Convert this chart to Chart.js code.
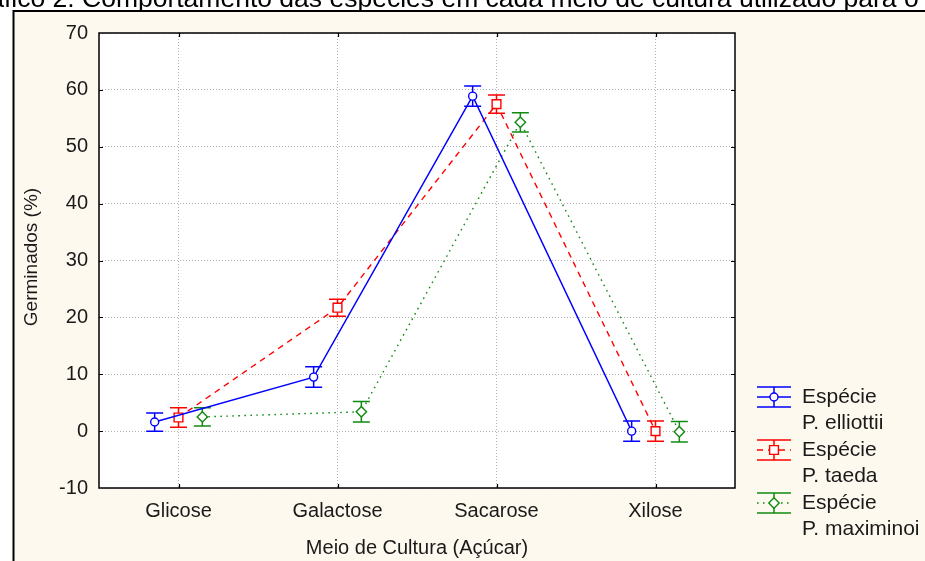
<!DOCTYPE html>
<html>
<head>
<meta charset="utf-8">
<script src="https://cdn.jsdelivr.net/npm/chart.js@4.4.1/dist/chart.umd.min.js"></script>
<style>
  html, body { margin: 0; padding: 0; background: #ffffff; overflow: hidden; }
  canvas { display: block; }
</style>
</head>
<body>
<canvas id="c" width="925" height="561"></canvas>
<script>
// Sugar media (x categories) and y axis ticks
const categories = ['Glicose', 'Galactose', 'Sacarose', 'Xilose'];
const yTicks = [-10, 0, 10, 20, 30, 40, 50, 60, 70];

// Germination (%) per medium, with half-width of the error bars
const elliottiiMean = [1.6, 9.5, 58.9, 0.0];
const elliottiiErr  = [1.6, 1.8, 1.8, 1.8];
const taedaMean     = [2.4, 21.7, 57.5, 0.0];
const taedaErr      = [1.7, 1.5, 1.6, 1.8];
const maximinoiMean = [2.5, 3.4, 54.3, -0.1];
const maximinoiErr  = [1.6, 1.8, 1.7, 1.8];

const seriesNames = [['Espécie', 'P. elliottii'], ['Espécie', 'P. taeda'], ['Espécie', 'P. maximinoi']];

const FONT = '"Liberation Sans", Arial, sans-serif';
const TEXT = '#1a1a1a';

const series = [
  { name: seriesNames[0], mean: elliottiiMean, err: elliottiiErr, color: '#0000ff', style: 'circle',  radius: 4,   dash: [],     shift: -0.15 },
  { name: seriesNames[1], mean: taedaMean,     err: taedaErr,     color: '#ff0000', style: 'rect',    radius: 6.2, dash: [6, 5], shift: 0 },
  { name: seriesNames[2], mean: maximinoiMean, err: maximinoiErr, color: '#108a10', style: 'rectRot', radius: 5.2, dash: [1.6, 4.4], shift: 0.15 }
];

const datasets = series.map(s => ({
  label: s.name.join(' '),
  data: s.mean.map((v, i) => ({ x: i + s.shift, y: v, e: s.err[i] })),
  borderColor: s.color,
  backgroundColor: '#ffffff',
  borderWidth: 1.4,
  borderDash: s.dash,
  tension: 0,
  pointStyle: s.style,
  pointRadius: s.radius,
  pointBorderWidth: 1.4,
  pointBorderColor: s.color,
  pointBackgroundColor: '#ffffff'
}));

// page, caption strip, cream panel and white plot area
const backdrop = {
  id: 'backdrop',
  beforeDraw(chart) {
    const { ctx, chartArea: a, width, height } = chart;
    ctx.save();
    ctx.fillStyle = '#ffffff';
    ctx.fillRect(0, 0, width, height);

    // caption above the panel
    ctx.fillStyle = '#000000';
    ctx.font = '26.5px ' + FONT;
    ctx.textBaseline = 'alphabetic';
    ctx.textAlign = 'left';
    const lead = 'Gráfico 2. ';
    const x0 = 82 - ctx.measureText(lead).width;
    ctx.fillText(lead + 'Comportamento das espécies em cada meio de cultura utilizado para o', x0, 6.5);

    ctx.fillStyle = '#fef9ee';
    ctx.fillRect(14, 12, width - 14, height - 12);
    ctx.strokeStyle = '#000000';
    ctx.lineWidth = 2;
    ctx.beginPath();
    ctx.moveTo(13.5, height);
    ctx.lineTo(13.5, 11);
    ctx.lineTo(width, 11);
    ctx.stroke();

    ctx.fillStyle = '#ffffff';
    ctx.fillRect(a.left, a.top, a.right - a.left, a.bottom - a.top);
    ctx.restore();
  }
};

// vertical error bars with caps
const errorBars = {
  id: 'errorBars',
  beforeDatasetsDraw(chart) {
    const { ctx, scales: { x, y } } = chart;
    ctx.save();
    ctx.lineWidth = 1.5;
    ctx.setLineDash([]);
    chart.data.datasets.forEach(ds => {
      ctx.strokeStyle = ds.borderColor;
      ds.data.forEach(p => {
        const px = x.getPixelForValue(p.x);
        const top = y.getPixelForValue(p.y + p.e);
        const bot = y.getPixelForValue(p.y - p.e);
        ctx.beginPath();
        ctx.moveTo(px, top); ctx.lineTo(px, bot);
        ctx.moveTo(px - 8.5, top); ctx.lineTo(px + 8.5, top);
        ctx.moveTo(px - 8.5, bot); ctx.lineTo(px + 8.5, bot);
        ctx.stroke();
      });
    });
    ctx.restore();
  }
};

// plot frame, inner ticks, axis titles and legend
const decorations = {
  id: 'decorations',
  afterDraw(chart) {
    const { ctx, chartArea: a, scales: { x, y } } = chart;
    ctx.save();
    ctx.setLineDash([]);
    ctx.strokeStyle = '#000000';
    ctx.lineWidth = 1.5;
    ctx.strokeRect(a.left, a.top, a.right - a.left, a.bottom - a.top);

    ctx.lineWidth = 1.2;
    ctx.beginPath();
    yTicks.slice(1, -1).forEach(v => {
      const py = Math.round(y.getPixelForValue(v)) + 0.5;
      ctx.moveTo(a.left, py); ctx.lineTo(a.left + 4, py);
      ctx.moveTo(a.right, py); ctx.lineTo(a.right - 4, py);
    });
    categories.forEach((c, i) => {
      const px = Math.round(x.getPixelForValue(i)) + 0.5;
      ctx.moveTo(px, a.bottom); ctx.lineTo(px, a.bottom - 4);
      ctx.moveTo(px, a.top); ctx.lineTo(px, a.top + 4);
    });
    ctx.stroke();

    // axis titles
    ctx.fillStyle = TEXT;
    ctx.font = '20px ' + FONT;
    ctx.textAlign = 'center';
    ctx.textBaseline = 'middle';
    ctx.fillText('Meio de Cultura (Açúcar)', (a.left + a.right) / 2, 548);
    ctx.save();
    ctx.translate(31.5, 257);
    ctx.rotate(-Math.PI / 2);
    ctx.font = '19px ' + FONT;
    ctx.fillText('Germinados (%)', 0, 0);
    ctx.restore();

    // legend
    const symX = 774, half = 17, textX = 802;
    series.forEach((s, k) => {
      const cy = 397 + k * 53;
      ctx.strokeStyle = s.color;
      ctx.lineWidth = 1.5;
      ctx.setLineDash([]);
      ctx.beginPath();
      ctx.moveTo(symX - half, cy - 10); ctx.lineTo(symX + half, cy - 10);
      ctx.moveTo(symX - half, cy + 10); ctx.lineTo(symX + half, cy + 10);
      ctx.moveTo(symX, cy - 10); ctx.lineTo(symX, cy + 10);
      ctx.stroke();
      ctx.setLineDash(s.dash);
      ctx.beginPath();
      ctx.moveTo(symX - half, cy); ctx.lineTo(symX + half, cy);
      ctx.stroke();
      ctx.setLineDash([]);
      ctx.fillStyle = '#ffffff';
      ctx.lineWidth = 1.4;
      Chart.helpers.drawPoint(ctx, { pointStyle: s.style, radius: s.radius, rotation: 0, borderWidth: 1.4 }, symX, cy);

      ctx.fillStyle = TEXT;
      ctx.font = '21px ' + FONT;
      ctx.textAlign = 'left';
      ctx.textBaseline = 'middle';
      ctx.fillText(s.name[0], textX, cy);
      ctx.fillText(s.name[1], textX, cy + 26.5);
    });
    ctx.restore();
  }
};

new Chart(document.getElementById('c'), {
  type: 'line',
  data: { datasets },
  options: {
    responsive: false,
    animation: false,
    devicePixelRatio: 1,
    layout: { padding: { top: 33, right: 190, left: 0, bottom: 0 } },
    plugins: { legend: { display: false }, tooltip: { enabled: false } },
    scales: {
      x: {
        type: 'linear',
        min: -0.5,
        max: 3.5,
        afterBuildTicks(s) { s.ticks = categories.map((c, i) => ({ value: i })); },
        afterFit(s) { s.height = 73; },
        grid: { color: '#b4b4b4', lineWidth: 1, drawTicks: false },
        border: { display: false, dash: [1, 2] },
        ticks: {
          autoSkip: false, maxRotation: 0, padding: 11,
          color: TEXT, font: { size: 20, family: FONT },
          callback: v => categories[v] ?? ''
        }
      },
      y: {
        min: yTicks[0],
        max: yTicks[yTicks.length - 1],
        afterBuildTicks(s) { s.ticks = yTicks.map(v => ({ value: v })); },
        afterFit(s) { s.width = 99; },
        grid: { color: '#b4b4b4', lineWidth: 1, drawTicks: false },
        border: { display: false, dash: [1, 2] },
        ticks: { padding: 11, color: TEXT, font: { size: 20, family: FONT } }
      }
    }
  },
  plugins: [backdrop, errorBars, decorations]
});
</script>
</body>
</html>
